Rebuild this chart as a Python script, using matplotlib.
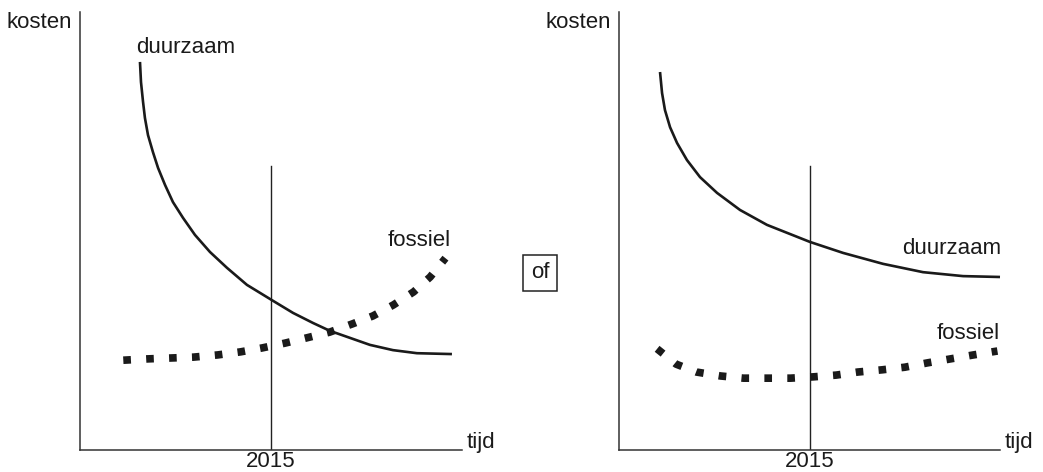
import matplotlib.pyplot as plt

plt.rcParams['font.family'] = ['Liberation Sans', 'DejaVu Sans']

# scenario 1 (left)
l_duur_jaar = [2004.71, 2004.79, 2004.95, 2005.10, 2005.34, 2005.73, 2006.13, 2006.68, 2007.30, 2008.09,
               2009.03, 2010.21, 2011.54, 2013.11, 2015.08, 2016.73, 2018.30, 2019.63, 2021.20, 2022.77,
               2024.58, 2026.46, 2029.21]
l_duur_kost = [88.6, 84.0, 79.5, 75.8, 71.9, 68.0, 64.4, 60.5, 56.6, 53.0,
               49.1, 45.2, 41.6, 37.7, 34.2, 31.3, 29.0, 27.2, 25.6, 24.0,
               22.8, 22.1, 21.9]
l_foss_jaar = [2003.4, 2005.3, 2007.1, 2008.9, 2010.8, 2012.6, 2014.3, 2016.1, 2017.8, 2019.6, 2021.4, 2023.0, 2024.6, 2026.2, 2027.5, 2028.7]
l_foss_kost = [20.5, 20.8, 21.0, 21.2, 21.7, 22.4, 23.3, 24.4, 25.6, 26.9, 28.8, 30.6, 33.1, 36.1, 39.5, 43.8]

# scenario 2 (right)
r_duur_jaar = [2003.23, 2003.39, 2003.62, 2004.02, 2004.57, 2005.35, 2006.38, 2007.72, 2009.53, 2011.65,
               2015.04, 2017.64, 2020.79, 2023.94, 2027.09, 2030.0]
r_duur_kost = [86.3, 81.5, 77.6, 73.7, 70.1, 66.2, 62.3, 58.7, 54.8, 51.4,
               47.5, 45.0, 42.5, 40.6, 39.7, 39.5]
r_foss_jaar = [2003.0, 2004.5, 2006.1, 2008.0, 2009.8, 2011.7, 2013.5, 2015.3, 2017.1, 2018.8, 2020.7, 2022.5, 2024.3, 2026.1, 2027.9, 2029.8]
r_foss_kost = [23.1, 19.6, 17.8, 16.9, 16.4, 16.4, 16.4, 16.7, 17.1, 17.8, 18.3, 18.9, 19.9, 20.8, 21.7, 22.6]

jaar_2015 = 2015
hoogte_2015 = 64.8

W, H = 1043, 472
fig = plt.figure(figsize=(W / 100, H / 100), dpi=100)
ax1 = fig.add_axes([80 / W, 22 / H, 382 / W, 438 / H])
ax2 = fig.add_axes([619 / W, 22 / H, 381 / W, 438 / H])

fs = 16
ink = '#1a1a1a'
dots = (0, (1, 2.0))

for ax in (ax1, ax2):
    ax.set_xlim(2000, 2030)
    ax.set_ylim(0, 100)
    for s in ('top', 'right'):
        ax.spines[s].set_visible(False)
    for s in ('left', 'bottom'):
        ax.spines[s].set_linewidth(1.1)
        ax.spines[s].set_color('#333333')
    ax.set_yticks([])
    ax.set_xticks([jaar_2015])
    ax.set_xticklabels(['2015'], fontsize=fs, color=ink)
    ax.tick_params(axis='x', length=0, pad=1)
    ax.plot([jaar_2015, jaar_2015], [0, hoogte_2015], color='#222222', lw=1.0)
    ax.text(-0.022, 0.977, 'kosten', transform=ax.transAxes, ha='right', va='center', fontsize=fs, color=ink)
    ax.text(1.012, 0.018, 'tijd', transform=ax.transAxes, ha='left', va='center', fontsize=fs, color=ink)

ax1.plot(l_duur_jaar, l_duur_kost, color=ink, lw=1.9, solid_capstyle='butt', solid_joinstyle='round')
ax1.plot(l_foss_jaar, l_foss_kost, color=ink, lw=5.5, linestyle=dots, dash_capstyle='butt')
ax1.text(2004.4, 91.8, 'duurzaam', ha='left', va='center', fontsize=fs, color=ink)
ax1.text(2029.1, 47.9, 'fossiel', ha='right', va='center', fontsize=fs, color=ink)

ax2.plot(r_duur_jaar, r_duur_kost, color=ink, lw=1.9, solid_capstyle='butt', solid_joinstyle='round', clip_on=False)
ax2.plot(r_foss_jaar, r_foss_kost, color=ink, lw=5.5, linestyle=dots, dash_capstyle='butt')
ax2.text(2030.1, 46.1, 'duurzaam', ha='right', va='center', fontsize=fs, color=ink)
ax2.text(2030.0, 26.7, 'fossiel', ha='right', va='center', fontsize=fs, color=ink)

fig.text(540 / W, 1 - 273 / H, 'of', ha='center', va='center', fontsize=fs, color=ink,
         bbox=dict(boxstyle='square,pad=0.35', fc='white', ec='#222222', lw=1.1))

fig.savefig('out.png', dpi=100)
